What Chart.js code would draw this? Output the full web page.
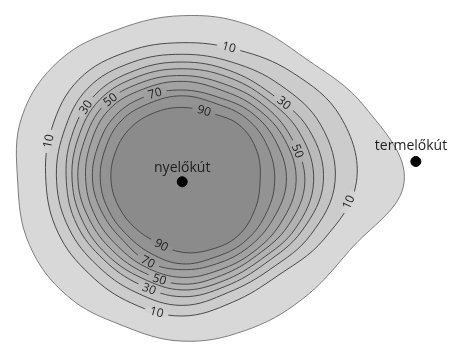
<!DOCTYPE html>
<html><head><meta charset="utf-8">
<script src="https://cdn.jsdelivr.net/npm/chart.js@4.4.1/dist/chart.umd.min.js"></script>
<style>html,body{margin:0;padding:0;background:#fff}#wrap{width:453px;height:351px;position:relative}</style>
</head><body><div id="wrap"><canvas id="c"></canvas></div>
<script>
// Contour levels (outer boundary = 0) and the directions (degrees, clockwise from east, screen coords)
const contourLevels = [0, 10, 20, 30, 40, 50, 60, 70, 80, 90];
const directionsDeg = [0, 22.5, 45, 67.5, 90, 112.5, 135, 157.5, 180, 202.5, 225, 247.5, 270, 292.5, 315, 337.5];
// Distance of each contour from the injection well, per direction (pixels of the original figure)
const radius0  = [228, 186, 173, 167, 165, 161, 167, 170, 169, 178, 178, 171, 172, 176, 180, 203];
const radius10 = [179, 157, 138, 135, 139, 136, 135, 138, 140, 145, 150, 146, 144, 148, 160, 176];
const radius20 = [157, 143, 128, 124, 128, 124, 123, 126, 129, 132, 137, 134, 132, 134, 142, 154];
const radius30 = [145, 133, 120, 117, 119, 115, 114, 117, 119, 123, 127, 125, 124, 125, 129, 141];
const radius40 = [135, 126, 114, 111, 112, 108, 108, 110, 113, 116, 120, 118, 117, 118, 122, 131];
const radius50 = [126, 118, 108, 105, 106, 102, 101, 103, 107, 109, 113, 111, 110, 110, 115, 121];
const radius60 = [117, 110, 103,  99,  99,  96,  94,  96,  99, 102, 106, 104, 104, 103, 108, 114];
const radius70 = [107, 101,  96,  92,  91,  90,  86,  88,  92,  94,  97,  96,  95,  95, 101, 105];
const radius80 = [ 95,  92,  89,  85,  85,  81,  79,  81,  84,  86,  89,  88,  89,  88,  93,  95];
const radius90 = [ 80,  80,  80,  76,  73,  68,  68,  70,  73,  75,  77,  77,  77,  77,  83,  83];
// Wells
const wellNames = ['nyelőkút', 'termelőkút'];
const wellX = [181, 421];
const wellY = [182, 161];
// Contour labels: level and direction from the injection well
const labelLevels     = [10, 10, 10, 10, 30, 30, 30, 50, 50, 50, 70, 70, 90, 90];
const labelDirections = [289, 197, 7, 101, 218, 322, 107, 229, 345, 103, 253, 113, 287, 108];

const radii = [radius0, radius10, radius20, radius30, radius40, radius50, radius60, radius70, radius80, radius90];
const bandColors = ['#d8d8d8', '#cccccc', '#c3c3c3', '#bababa', '#b2b2b2', '#aaaaaa', '#a2a2a2', '#9a9a9a', '#939393', '#8b8b8b'];

function polarPoint(r, deg) {
  const a = deg * Math.PI / 180;
  return { x: wellX[0] + r * Math.cos(a), y: wellY[0] + r * Math.sin(a) };
}
function radiusAt(idx, deg) {
  const step = 360 / directionsDeg.length;
  const d = ((deg % 360) + 360) % 360;
  const j = Math.floor(d / step), t = (d - j * step) / step;
  const r = radii[idx];
  return r[j] * (1 - t) + r[(j + 1) % r.length] * t;
}

const contourDatasets = contourLevels.map((lvl, i) => ({
  label: 'c' + lvl,
  data: directionsDeg.map((d, j) => polarPoint(radii[i][j], d)),
  showLine: true,
  closedLoop: true,
  fill: 'shape',
  backgroundColor: bandColors[i],
  borderColor: i === 0 ? '#707070' : '#4a4a4a',
  borderWidth: i === 0 ? 0.9 : 1,
  pointRadius: 0,
  tension: 0.38,
  order: 100 - i
}));

const wellDataset = {
  label: 'wells',
  data: wellX.map((x, i) => ({ x, y: wellY[i] })),
  showLine: false,
  pointRadius: 5,
  pointBackgroundColor: '#000',
  pointBorderColor: '#000',
  order: 0
};

const loopPlugin = {
  id: 'loopClose',
  afterDatasetsUpdate(chart) {
    chart.data.datasets.forEach((ds, i) => {
      const meta = chart.getDatasetMeta(i);
      if (ds.closedLoop && meta.dataset) {
        const line = meta.dataset;
        line._loop = true;
        line._fullLoop = true;
        line._pointsUpdated = false;
        delete line._segments;
        line._path = undefined;
        line.updateControlPoints(chart.chartArea, 'x');
      }
    });
  }
};

function mixColor(a, b) {
  const pa = parseInt(a.slice(1), 16), pb = parseInt(b.slice(1), 16);
  const ch = s => Math.round((((pa >> s) & 255) + ((pb >> s) & 255)) / 2);
  return 'rgb(' + ch(16) + ',' + ch(8) + ',' + ch(0) + ')';
}

const labelPlugin = {
  id: 'contourLabels',
  afterDatasetsDraw(chart) {
    const ctx = chart.ctx, xs = chart.scales.x, ys = chart.scales.y;
    ctx.save();
    labelLevels.forEach((lvl, k) => {
      const idx = contourLevels.indexOf(lvl);
      const deg = labelDirections[k];
      const p = polarPoint(radiusAt(idx, deg), deg);
      const p1 = polarPoint(radiusAt(idx, deg - 1.5), deg - 1.5);
      const p2 = polarPoint(radiusAt(idx, deg + 1.5), deg + 1.5);
      const px = xs.getPixelForValue(p.x), py = ys.getPixelForValue(p.y);
      let ang = Math.atan2(ys.getPixelForValue(p2.y) - ys.getPixelForValue(p1.y), xs.getPixelForValue(p2.x) - xs.getPixelForValue(p1.x));
      if (ang > Math.PI / 2) ang -= Math.PI;
      if (ang <= -Math.PI / 2) ang += Math.PI;
      const txt = String(lvl);
      ctx.save();
      ctx.translate(px, py);
      ctx.rotate(ang);
      ctx.font = '12px "Open Sans"';
      const w = ctx.measureText(txt).width;
      ctx.fillStyle = mixColor(bandColors[idx - 1], bandColors[idx]);
      ctx.fillRect(-w / 2 - 5, -3, w + 10, 6);
      ctx.fillStyle = '#1e1e1e';
      ctx.textAlign = 'center';
      ctx.textBaseline = 'middle';
      ctx.fillText(txt, 0, 0.5);
      ctx.restore();
    });
    // well names
    ctx.font = '14px "Open Sans"';
    ctx.fillStyle = '#1e1e1e';
    ctx.textBaseline = 'alphabetic';
    ctx.textAlign = 'center';
    ctx.fillText(wellNames[0], xs.getPixelForValue(wellX[0]), ys.getPixelForValue(wellY[0]) - 10);
    ctx.textAlign = 'left';
    ctx.fillText(wellNames[1], xs.getPixelForValue(wellX[1]) - 41, ys.getPixelForValue(wellY[1]) - 11);
    ctx.restore();
  }
};

new Chart(document.getElementById('c'), {
  type: 'scatter',
  data: { datasets: [...contourDatasets, wellDataset] },
  options: {
    responsive: true,
    maintainAspectRatio: false,
    animation: false,
    events: [],
    layout: { padding: 0 },
    plugins: { legend: { display: false }, tooltip: { enabled: false } },
    scales: {
      x: { type: 'linear', min: 0, max: 453, display: false },
      y: { type: 'linear', min: 0, max: 351, reverse: true, display: false }
    }
  },
  plugins: [loopPlugin, labelPlugin]
});
</script>
</body></html>
